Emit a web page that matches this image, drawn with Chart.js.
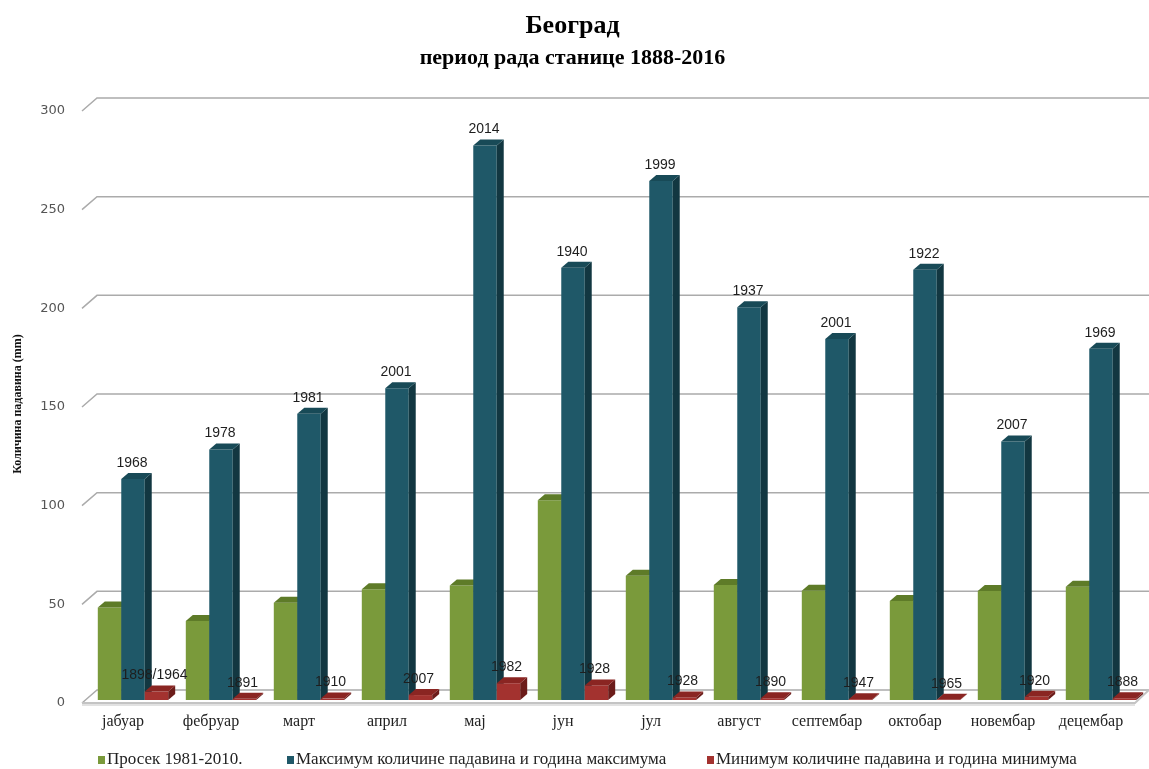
<!DOCTYPE html>
<html>
<head>
<meta charset="utf-8">
<script src="https://cdn.jsdelivr.net/npm/chart.js@4.4.0/dist/chart.umd.min.js"></script>
<style>
  html, body { margin: 0; padding: 0; background: #fff; }
  #wrap { width: 1149px; height: 769px; }
</style>
</head>
<body>
<div id="wrap"><canvas id="myChart" width="1149" height="769"></canvas></div>
<script>
// Meseci i podaci (mm)
const meseci = ["јабуар", "фебруар", "март", "април", "мај", "јун", "јул", "август", "септембар", "октобар", "новембар", "децембар"];
const prosek = [46.9, 40.0, 49.3, 56.1, 58.0, 101.2, 63.0, 58.3, 55.3, 50.2, 55.2, 57.4];
const maksimum = [112, 127, 145, 158, 281, 219, 263, 199, 183, 218, 131, 178];
const minimum = [4.3, 0.6, 0.7, 2.5, 8.5, 7.4, 1.3, 0.9, 0.4, 0.1, 1.6, 0.9];
const godineMax = ["1968", "1978", "1981", "2001", "2014", "1940", "1999", "1937", "2001", "1922", "2007", "1969"];
const godineMin = ["1898/1964", "1891", "1910", "2007", "1982", "1928", "1928", "1890", "1947", "1965", "1920", "1888"];
const podeokeY = [0, 50, 100, 150, 200, 250, 300];

// dubina stubova i zidova
const stub = { dx: 7, dy: 6 };
const zid = { dx: 8, dy: 10 };
const pod = { dx: -7, dy: 3 };

const stubovi3d = {
  id: "stubovi3d",
  beforeDatasetsDraw(chart) {
    const ctx = chart.ctx;
    const area = chart.chartArea;
    const y = chart.scales.y;

    // zadnji zid sa linijama mreze
    ctx.save();
    ctx.strokeStyle = "#ababab";
    ctx.lineWidth = 1.5;
    podeokeY.forEach((v) => {
      const py = y.getPixelForValue(v);
      ctx.beginPath();
      ctx.moveTo(area.left + pod.dx, py + pod.dy);
      ctx.lineTo(area.left + zid.dx, py - zid.dy);
      ctx.lineTo(chart.width, py - zid.dy);
      ctx.stroke();
    });

    // prednja ivica poda
    const p0 = y.getPixelForValue(0);
    ctx.strokeStyle = "#c4c4c4";
    ctx.lineWidth = 2;
    ctx.beginPath();
    ctx.moveTo(area.left + pod.dx, p0 + pod.dy);
    ctx.lineTo(area.right - 10, p0 + pod.dy);
    ctx.lineTo(area.right + 4, p0 - zid.dy);
    ctx.stroke();
    ctx.strokeStyle = "#e2e2e2";
    ctx.beginPath();
    ctx.moveTo(area.left + pod.dx, p0 + pod.dy + 2);
    ctx.lineTo(area.right - 10, p0 + pod.dy + 2);
    ctx.stroke();
    ctx.restore();

    // stubovi: prednja, bocna i gornja strana
    const n = chart.data.labels.length;
    for (let i = 0; i < n; i++) {
      chart.data.datasets.forEach((ds, d) => {
        const bar = chart.getDatasetMeta(d).data[i];
        const { x, y: top, base, width } = bar.getProps(["x", "y", "base", "width"], true);
        const l = x - width / 2;
        const r = x + width / 2;
        bar.draw(ctx);
        ctx.save();
        ctx.fillStyle = ds.sideColor;
        ctx.beginPath();
        ctx.moveTo(r, top);
        ctx.lineTo(r + stub.dx, top - stub.dy);
        ctx.lineTo(r + stub.dx, base - stub.dy);
        ctx.lineTo(r, base);
        ctx.closePath();
        ctx.fill();
        ctx.fillStyle = ds.topColor;
        ctx.beginPath();
        ctx.moveTo(l, top);
        ctx.lineTo(r, top);
        ctx.lineTo(r + stub.dx, top - stub.dy);
        ctx.lineTo(l + stub.dx, top - stub.dy);
        ctx.closePath();
        ctx.fill();
        ctx.restore();
      });
    }

    // godine maksimuma i minimuma
    ctx.save();
    ctx.font = "14px 'Liberation Sans'";
    ctx.fillStyle = "#1e1e1e";
    ctx.textAlign = "center";
    ctx.textBaseline = "middle";
    chart.getDatasetMeta(1).data.forEach((bar, i) => {
      ctx.fillText(godineMax[i], bar.x - 1, bar.y - 16);
    });
    chart.getDatasetMeta(2).data.forEach((bar, i) => {
      ctx.fillText(godineMin[i], bar.x - 2, bar.y - 16);
    });
    ctx.restore();
    return false;
  },
};

// legenda ispod grafikona
const legendaX = [98, 287, 707];
const legenda = {
  id: "legenda",
  afterDraw(chart) {
    const ctx = chart.ctx;
    const ly = 760;
    ctx.save();
    ctx.font = "17px 'Liberation Serif'";
    ctx.textBaseline = "middle";
    ctx.textAlign = "left";
    chart.data.datasets.forEach((ds, d) => {
      ctx.fillStyle = ds.backgroundColor;
      ctx.fillRect(legendaX[d], ly - 4, 7, 8);
      ctx.fillStyle = "#222";
      ctx.fillText(ds.label, legendaX[d] + 9, ly);
    });
    ctx.restore();
  },
};

const dati = {
  labels: meseci,
  datasets: [
    {
      label: "Просек 1981-2010.",
      data: prosek,
      backgroundColor: "#7a9a3b",
      topColor: "#5e7b28",
      sideColor: "#56702a",
    },
    {
      label: "Максимум количине падавина и година максимума",
      data: maksimum,
      backgroundColor: "#1f5868",
      topColor: "#184a57",
      sideColor: "#123741",
    },
    {
      label: "Минимум количине падавина и година минимума",
      data: minimum,
      backgroundColor: "#a3322f",
      topColor: "#8a2522",
      sideColor: "#6c1c1a",
    },
  ],
};

const config = {
  type: "bar",
  data: dati,
  options: {
    responsive: false,
    animation: false,
    categoryPercentage: 0.8,
    barPercentage: 1.0,
    layout: { padding: { left: 0, right: 4, top: 0, bottom: 0 } },
    plugins: {
      legend: { display: false },
      tooltip: { enabled: false },
      title: {
        display: true,
        text: "Београд",
        color: "#000",
        font: { family: "Liberation Serif", size: 26, weight: "bold" },
        padding: { top: 11, bottom: 0 },
      },
      subtitle: {
        display: true,
        text: "период рада станице 1888-2016",
        color: "#000",
        font: { family: "Liberation Serif", size: 22, weight: "bold" },
        padding: { top: 3, bottom: 36.4 },
      },
    },
    scales: {
      x: {
        afterFit: (scale) => {
          scale.height = 69;
        },
        grid: { display: false, drawTicks: false },
        border: { display: false },
        ticks: {
          color: "#222",
          font: { family: "Liberation Serif", size: 16 },
          padding: 12,
          labelOffset: -10,
          maxRotation: 0,
          autoSkip: false,
        },
      },
      y: {
        min: 0,
        max: 300,
        afterBuildTicks: (scale) => {
          scale.ticks = podeokeY.map((v) => ({ value: v }));
        },
        afterFit: (scale) => {
          scale.width = 89;
        },
        grid: { display: false, drawTicks: false },
        border: { display: false },
        ticks: {
          color: "#555",
          font: { family: "DejaVu Sans", size: 13 },
          padding: 24,
          labelOffset: 3,
        },
        title: {
          display: true,
          text: "Количина падавина (mm)",
          color: "#111",
          font: { family: "Liberation Serif", size: 12, weight: "bold" },
          padding: { top: 10.8, bottom: 14.8 },
        },
      },
    },
  },
  plugins: [stubovi3d, legenda],
};

const myChart = new Chart(document.getElementById("myChart").getContext("2d"), config);
</script>
</body>
</html>
